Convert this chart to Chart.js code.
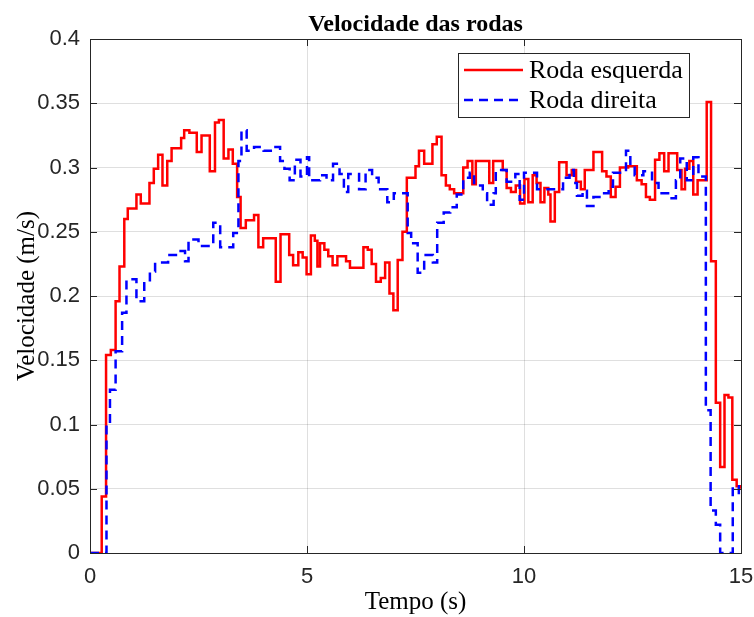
<!DOCTYPE html>
<html>
<head>
<meta charset="utf-8">
<script src="https://cdn.jsdelivr.net/npm/chart.js@4.4.1/dist/chart.umd.min.js"></script>
<style>
  html, body { margin: 0; padding: 0; background: #fff; }
  canvas { display: block; }
</style>
</head>
<body>
<canvas id="rodas" width="754" height="617"></canvas>
<script>
// tempos (s) e velocidades (m/s) de cada roda, em degraus
const redTimes = [0, 0.27, 0.37, 0.48, 0.59, 0.68, 0.79, 0.87, 1.07, 1.17, 1.37, 1.47, 1.57, 1.67, 1.78, 1.88,
  2.10, 2.17, 2.29, 2.46, 2.57, 2.76, 2.88, 2.97, 3.08, 3.19, 3.29, 3.39, 3.47, 3.59, 3.78, 3.88, 3.99,
  4.28, 4.39, 4.59, 4.68, 4.80, 4.90, 4.99, 5.09, 5.18, 5.24, 5.30, 5.40, 5.49, 5.59, 5.70, 5.90, 5.99,
  6.30, 6.40, 6.49, 6.59, 6.70, 6.80, 6.90, 6.99, 7.09, 7.20, 7.30, 7.50, 7.58, 7.70, 7.89, 7.99,
  8.10, 8.20, 8.29, 8.39, 8.60, 8.70, 8.81, 8.89, 9.20, 9.29, 9.51, 9.60, 9.70, 9.81, 9.91,
  10.01, 10.10, 10.20, 10.29, 10.38, 10.47, 10.56, 10.61, 10.71, 10.81, 10.98, 11.10, 11.20, 11.31, 11.40,
  11.60, 11.80, 11.90, 12.00, 12.11, 12.21, 12.40, 12.60, 12.71, 12.81, 12.90, 13.02, 13.12, 13.23, 13.33,
  13.53, 13.63, 13.71, 13.81, 13.90, 14.00, 14.21, 14.31, 14.42, 14.52, 14.62, 14.71, 14.80, 14.90, 15.00];
const redSpeeds = [0, 0.044, 0.154, 0.158, 0.196, 0.223, 0.260, 0.268, 0.279, 0.272, 0.288, 0.299, 0.310, 0.286, 0.305, 0.315,
  0.323, 0.329, 0.327, 0.312, 0.325, 0.297, 0.335, 0.337, 0.307, 0.314, 0.303, 0.277, 0.253, 0.259, 0.263, 0.238, 0.245,
  0.211, 0.248, 0.232, 0.224, 0.234, 0.230, 0.217, 0.247, 0.243, 0.223, 0.241, 0.236, 0.231, 0.224, 0.231, 0.227, 0.222,
  0.238, 0.236, 0.225, 0.211, 0.214, 0.226, 0.202, 0.189, 0.228, 0.250, 0.292, 0.301, 0.313, 0.303, 0.318, 0.324,
  0.294, 0.286, 0.283, 0.280, 0.300, 0.305, 0.287, 0.305, 0.288, 0.305, 0.298, 0.284, 0.281, 0.286, 0.272,
  0.291, 0.273, 0.294, 0.288, 0.273, 0.284, 0.279, 0.258, 0.281, 0.304, 0.294, 0.298, 0.289, 0.283, 0.298,
  0.312, 0.297, 0.293, 0.277, 0.285, 0.300, 0.301, 0.290, 0.287, 0.277, 0.275, 0.306, 0.311, 0.297, 0.311,
  0.298, 0.283, 0.299, 0.305, 0.279, 0.290, 0.351, 0.227, 0.117, 0.067, 0.123, 0.121, 0.057, 0.052, 0.050];

const blueTimes = [0, 0.38, 0.46, 0.59, 0.74, 0.84, 1.07, 1.25, 1.38, 1.50, 1.80, 2.03, 2.19, 2.27, 2.50, 2.84,
  3.00, 3.30, 3.42, 3.49, 3.61, 3.78, 4.00, 4.20, 4.38, 4.48, 4.60, 4.72, 4.85, 5.00, 5.05, 5.30, 5.45,
  5.60, 5.75, 5.85, 5.95, 6.20, 6.35, 6.50, 6.65, 6.85, 7.00, 7.32, 7.40, 7.55, 7.70, 7.90, 8.00, 8.15,
  8.30, 8.45, 8.60, 8.75, 8.85, 9.05, 9.15, 9.30, 9.35, 9.60, 9.80, 9.90, 10.00, 10.30, 10.90, 11.05,
  11.15, 11.22, 11.35, 11.45, 11.60, 11.80, 11.95, 12.05, 12.35, 12.45, 12.55, 12.75, 12.95, 13.10,
  13.40, 13.50, 13.60, 13.75, 13.90, 14.02, 14.19, 14.30, 14.42, 14.52, 14.81, 14.95, 15.00];
const blueSpeeds = [0, 0.100, 0.127, 0.157, 0.187, 0.213, 0.196, 0.210, 0.219, 0.226, 0.232, 0.235, 0.227, 0.244, 0.239, 0.257,
  0.238, 0.249, 0.305, 0.329, 0.313, 0.316, 0.313, 0.316, 0.305, 0.299, 0.290, 0.306, 0.293, 0.308, 0.290, 0.294, 0.290,
  0.303, 0.295, 0.281, 0.295, 0.283, 0.298, 0.292, 0.283, 0.273, 0.280, 0.249, 0.241, 0.218, 0.232, 0.226, 0.257, 0.265,
  0.269, 0.279, 0.292, 0.296, 0.286, 0.280, 0.271, 0.280, 0.298, 0.289, 0.295, 0.275, 0.296, 0.283, 0.292, 0.298,
  0.288, 0.278, 0.282, 0.270, 0.277, 0.280, 0.285, 0.296, 0.313, 0.303, 0.294, 0.297, 0.288, 0.280,
  0.276, 0.290, 0.307, 0.290, 0.308, 0.293, 0.111, 0.033, 0.022, 0, 0.052, 0.045, 0.045];

const xTicks = [0, 5, 10, 15];
const yTicks = [0, 0.05, 0.1, 0.15, 0.2, 0.25, 0.3, 0.35, 0.4];

const axisColor = '#262626';
const gridColor = 'rgba(38,38,38,0.15)';

const toPoints = (ts, vs) => ts.map((t, i) => ({ x: t, y: vs[i] }));

// caixa da legenda dentro da área do gráfico
const legendBox = {
  id: 'legendBox',
  afterDatasetsDraw(chart) {
    const { ctx, chartArea } = chart;
    const w = 231, h = 64;
    const x0 = chartArea.right - 52 - w;
    const y0 = chartArea.top + 14;
    ctx.save();
    ctx.fillStyle = '#fff';
    ctx.fillRect(x0, y0, w, h);
    ctx.strokeStyle = axisColor;
    ctx.lineWidth = 1;
    ctx.strokeRect(x0 + 0.5, y0 + 0.5, w, h);
    chart.data.datasets.forEach((ds, i) => {
      const y = y0 + 17 + i * 30;
      ctx.strokeStyle = ds.borderColor;
      ctx.lineWidth = ds.borderWidth;
      ctx.setLineDash(ds.borderDash || []);
      ctx.beginPath();
      ctx.moveTo(x0 + 6, y);
      ctx.lineTo(x0 + 65, y);
      ctx.stroke();
      ctx.setLineDash([]);
      ctx.fillStyle = '#000';
      ctx.font = '26px "Liberation Serif"';
      ctx.textBaseline = 'middle';
      ctx.textAlign = 'left';
      ctx.fillText(ds.label, x0 + 71, y + 1);
    });
    ctx.restore();
  }
};

// moldura e marcas de escala para dentro, nos quatro lados
const axesBox = {
  id: 'axesBox',
  afterDraw(chart) {
    const { ctx, chartArea: a, scales } = chart;
    const tick = 7;
    ctx.save();
    ctx.strokeStyle = axisColor;
    ctx.lineWidth = 1;
    ctx.beginPath();
    xTicks.forEach(v => {
      const px = Math.round(scales.x.getPixelForValue(v)) + 0.5;
      ctx.moveTo(px, a.bottom); ctx.lineTo(px, a.bottom - tick);
      ctx.moveTo(px, a.top); ctx.lineTo(px, a.top + tick);
    });
    yTicks.forEach(v => {
      const py = Math.round(scales.y.getPixelForValue(v)) + 0.5;
      ctx.moveTo(a.left, py); ctx.lineTo(a.left + tick, py);
      ctx.moveTo(a.right, py); ctx.lineTo(a.right - tick, py);
    });
    ctx.stroke();
    ctx.strokeRect(Math.round(a.left) + 0.5, Math.round(a.top) + 0.5,
      Math.round(a.right - a.left), Math.round(a.bottom - a.top));
    ctx.restore();
  }
};

new Chart(document.getElementById('rodas'), {
  type: 'line',
  data: {
    datasets: [
      {
        label: 'Roda esquerda',
        data: toPoints(redTimes, redSpeeds),
        borderColor: '#ff0000',
        borderWidth: 2.5,
        stepped: 'before',
        pointRadius: 0,
        fill: false,
        order: 1
      },
      {
        label: 'Roda direita',
        data: toPoints(blueTimes, blueSpeeds),
        borderColor: '#0000ff',
        borderWidth: 2.5,
        borderDash: [9, 6],
        stepped: 'before',
        pointRadius: 0,
        fill: false,
        order: 0
      }
    ]
  },
  options: {
    responsive: false,
    animation: false,
    devicePixelRatio: 1,
    layout: { padding: 0 },
    plugins: {
      legend: { display: false },
      tooltip: { enabled: false },
      title: {
        display: true,
        text: 'Velocidade das rodas',
        fullSize: false,
        color: '#000',
        font: { family: 'Liberation Serif', size: 24, weight: 'bold', lineHeight: 1.2 },
        padding: { top: 10, bottom: 0.2 }
      }
    },
    scales: {
      x: {
        type: 'linear',
        min: 0,
        max: 15,
        afterFit: s => {
          s.height = 64;
          s.paddingLeft = 0;
          s.paddingRight = 13;
        },
        afterBuildTicks: s => { s.ticks = xTicks.map(v => ({ value: v })); },
        ticks: {
          color: axisColor,
          font: { family: 'Liberation Sans', size: 22 },
          padding: 11,
          maxRotation: 0
        },
        grid: { color: gridColor, drawTicks: false },
        border: { display: false },
        title: {
          display: true,
          text: 'Tempo (s)',
          color: '#000',
          font: { family: 'Liberation Serif', size: 25, lineHeight: 1.2 },
          padding: { bottom: 0 }
        }
      },
      y: {
        min: 0,
        max: 0.4,
        afterFit: s => { s.width = 90; },
        afterBuildTicks: s => { s.ticks = yTicks.map(v => ({ value: v })); },
        ticks: {
          color: axisColor,
          font: { family: 'Liberation Sans', size: 22 },
          padding: 10,
          callback: v => String(+v.toFixed(2))
        },
        grid: { color: gridColor, drawTicks: false },
        border: { display: false },
        title: {
          display: true,
          text: 'Velocidade (m/s)',
          color: '#000',
          font: { family: 'Liberation Serif', size: 25, lineHeight: 1.2 },
          padding: { top: 12 }
        }
      }
    }
  },
  plugins: [legendBox, axesBox]
});
</script>
</body>
</html>
